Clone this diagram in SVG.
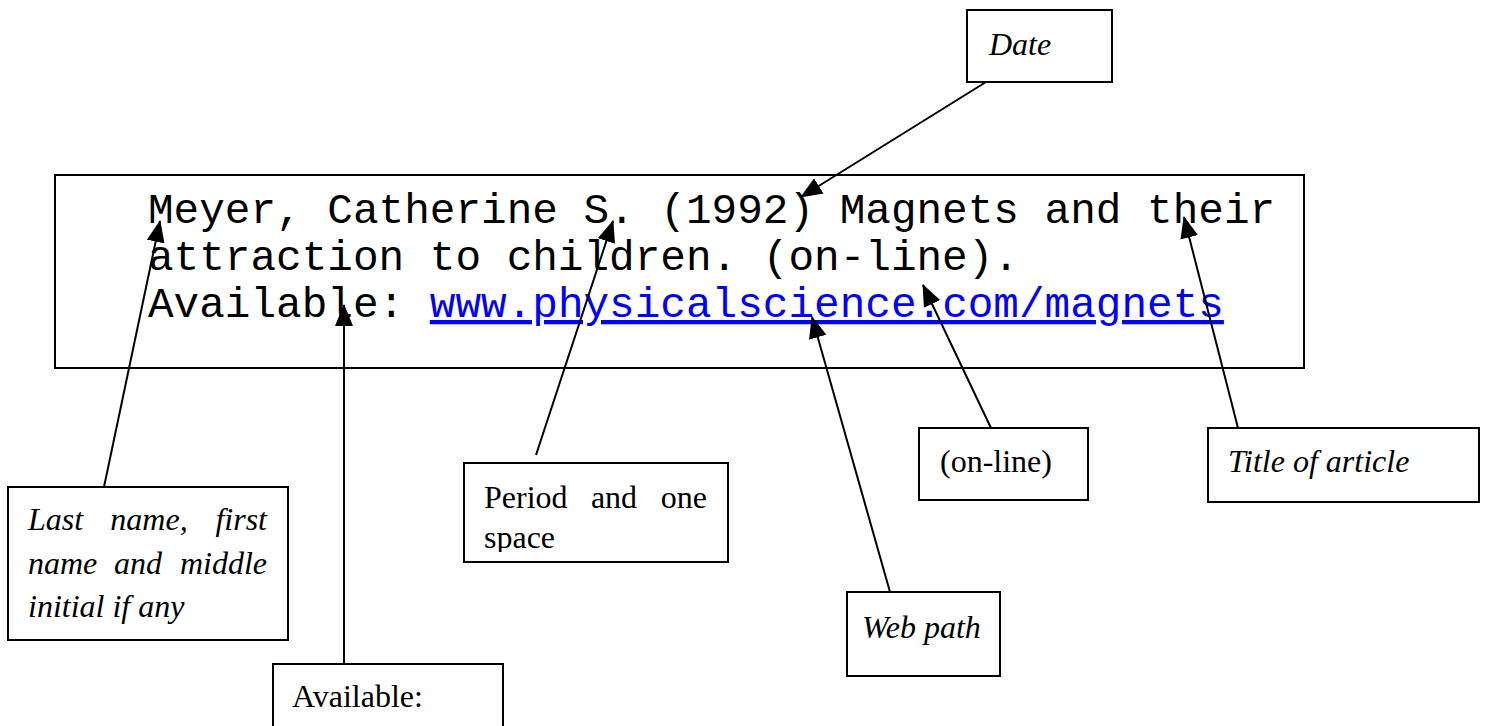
<svg xmlns="http://www.w3.org/2000/svg" width="1492" height="726" viewBox="0 0 1492 726">
<style>
.box{fill:#fff;stroke:#000;stroke-width:2}
.lbl{font-family:"Liberation Serif","Times New Roman",serif;font-size:32px;fill:#000}
.it{font-style:italic}
.end{text-anchor:end}
.mid{text-anchor:middle}
.mono{font-family:"Liberation Mono","Courier New",monospace;font-size:42.7px;fill:#000}
.link{fill:#0000ff;text-decoration:underline}
.conn{stroke:#000;stroke-width:2;fill:none;marker-end:url(#ah)}
</style>
<defs>
<marker id="ah" markerUnits="userSpaceOnUse" markerWidth="22" markerHeight="18" viewBox="0 0 22 18" refX="21" refY="9" orient="auto">
<path d="M0,0 L22,9 L0,18 Z" fill="#000"/>
</marker>
<clipPath id="clipPeriod"><rect x="464" y="463" width="264" height="89"/></clipPath>
</defs>
<g id="main">
<rect class="box" x="55" y="175" width="1249" height="193"/>
<text class="mono" x="148" y="223">Meyer, Catherine S. (1992) Magnets and their</text>
<text class="mono" x="148" y="270">attraction to children. (on-line).</text>
<text class="mono" x="148" y="317">Available: <tspan class="link">www.physicalscience.com/magnets</tspan></text>
</g>
<g id="date">
<rect class="box" x="967" y="10" width="145" height="72"/>
<text class="lbl it" x="989" y="55">Date</text>
</g>
<g id="lastname">
<rect class="box" x="8" y="487" width="280" height="153"/>
<text class="lbl it" x="28" y="530">Last</text>
<text class="lbl it mid" x="149" y="530">name,</text>
<text class="lbl it end" x="267" y="530">first</text>
<text class="lbl it" x="28" y="574">name</text>
<text class="lbl it mid" x="138" y="574">and</text>
<text class="lbl it end" x="267" y="574">middle</text>
<text class="lbl it" x="28" y="617">initial if any</text>
</g>
<g id="period">
<rect class="box" x="464" y="463" width="264" height="99"/>
<g clip-path="url(#clipPeriod)">
<text class="lbl" x="484" y="508">Period</text>
<text class="lbl mid" x="614" y="508">and</text>
<text class="lbl end" x="707" y="508">one</text>
<text class="lbl" x="484" y="548">space</text>
</g>
</g>
<g id="available">
<rect class="box" x="273" y="664" width="230" height="70"/>
<text class="lbl" x="292" y="707">Available:</text>
</g>
<g id="online">
<rect class="box" x="919" y="428" width="169" height="72"/>
<text class="lbl" x="940" y="472">(on-line)</text>
</g>
<g id="title">
<rect class="box" x="1208" y="428" width="271" height="74"/>
<text class="lbl it" x="1228" y="472">Title of article</text>
</g>
<g id="webpath">
<rect class="box" x="847" y="592" width="153" height="84"/>
<text class="lbl it" x="862" y="638">Web path</text>
</g>
<g id="connectors">
<line class="conn" x1="986" y1="82" x2="801" y2="197"/>
<line class="conn" x1="104" y1="487" x2="160" y2="221"/>
<line class="conn" x1="344" y1="664" x2="344" y2="305"/>
<line class="conn" x1="536" y1="455" x2="613" y2="221"/>
<line class="conn" x1="890" y1="592" x2="812" y2="317"/>
<line class="conn" x1="991" y1="428" x2="923" y2="285"/>
<line class="conn" x1="1238" y1="428" x2="1184" y2="217"/>
</g>
</svg>
